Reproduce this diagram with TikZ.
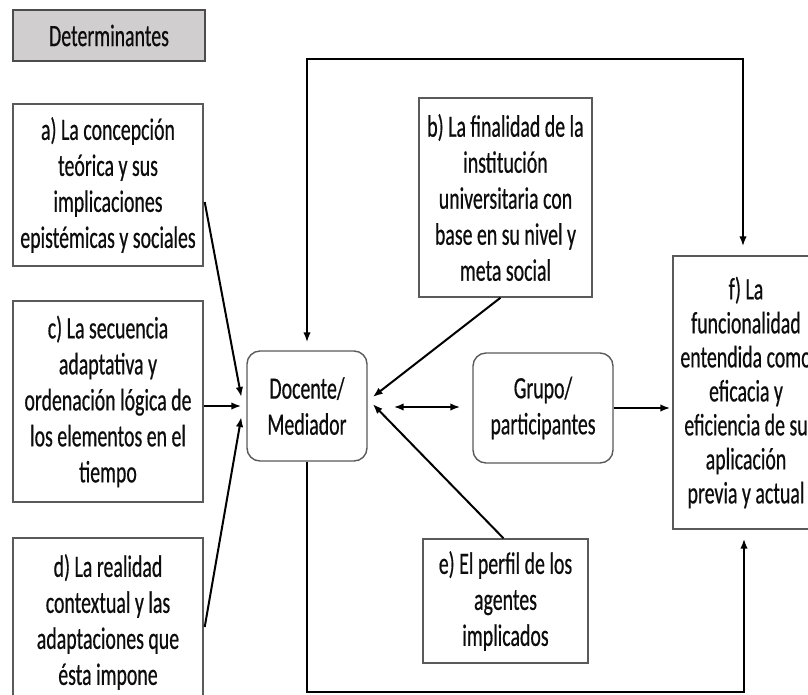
\documentclass[tikz,border=0pt]{standalone}
\usepackage{fontspec}
\setmainfont{Carlito}[FakeStretch=0.64,FakeBold=0.5]
\usetikzlibrary{calc,arrows.meta}
\definecolor{tagfill}{HTML}{D0CECE}
\definecolor{edge}{HTML}{5A5A5A}

\begin{document}
\begin{tikzpicture}[x=1pt,y=-1pt,
  txt/.style={font=\fontsize{31}{36}\selectfont, text=black!95, align=center, inner sep=0pt},
  box/.style={txt, draw=edge, line width=1.4pt, fill=white},
  rbox/.style={box, rounded corners=13pt},
  tag/.style={txt, draw=black!70, line width=1.8pt, fill=tagfill},
  link/.style={line width=2pt, black},
  tip/.style={-{Latex[length=10pt,width=7.5pt]}},
  tips/.style={{Latex[length=10pt,width=7.5pt]}-{Latex[length=10pt,width=7.5pt]}}
]
\useasboundingbox (0,0) rectangle (808,694);
\clip (0,0) rectangle (808,694);

% heading
\node[tag, minimum width=192pt, minimum height=51pt] (det) at (109,35.5) {Determinantes};

% determinants on the left
\node[box, minimum width=190pt, minimum height=162pt] (a) at (108,185)
  {a) La concepción\\teórica y sus\\implicaciones\\epistémicas y sociales};
\node[box, minimum width=190pt, minimum height=201pt] (c) at (108,401.5)
  {c) La secuencia\\adaptativa y\\ordenación lógica de\\los elementos en el\\tiempo};
\node[box, minimum width=190pt, minimum height=168pt] (d) at (108,622)
  {d) La realidad\\contextual y las\\adaptaciones que\\ésta impone};

% determinants in the middle
\node[box, minimum width=173pt, minimum height=199pt] (b) at (505.5,197.5)
  {b) La finalidad de la\\institución\\universitaria con\\base en su nivel y\\meta social};
\node[box, minimum width=165pt, minimum height=124pt] (e) at (505.5,601)
  {e) El perfil de los\\agentes\\implicados};

% actors
\node[rbox, minimum width=120pt, minimum height=110pt] (doc) at (307,406) {Docente/\\Mediador};
\node[rbox, minimum width=140pt, minimum height=110pt] (grp) at (543,408) {Grupo/\\participantes};

% outcome
\node[box, minimum width=146pt, minimum height=273pt,
      font=\fontsize{31}{34}\selectfont] (f) at (746,392.5)
  {f) La\\funcionalidad\\entendida como\\eficacia y\\eficiencia de su\\aplicación\\previa y actual};

% bends of the feedback loops
\coordinate (tl) at (307,59);
\coordinate (tr) at (743,59);
\coordinate (bl) at (307,692);
\coordinate (br) at (744,692);

% upper loop: arrows into the mediator and into f
\draw[link, tips, shorten <=8pt, shorten >=9pt] (doc.north) -- (tl) -- (tr) -- (tr |- f.north);
% lower loop from the mediator up to f
\draw[link, tip, shorten >=9pt] (doc.south) -- (bl) -- (br) -- (br |- f.south);

% influences on the mediator
\draw[link, tip] ($(a.east)+(1,17)$) -- ($(doc.west)+(-5,-9)$);
\draw[link, tip] (c.east |- doc.west) -- ($(doc.west)+(-5,0)$);
\draw[link, tip] ($(d.east)+(1,5)$) -- ($(doc.west)+(-5,11)$);
\draw[link, tip] ($(b.south)+(-5,0)$) -- ($(doc.east)+(5,-9)$);
\draw[link, tip] ($(e.north)+(-2,0)$) -- ($(doc.east)+(5,-2)$);

% mediator <-> group, group -> f
\draw[link, tips] ($(doc.east)+(26,1)$) -- ($(grp.west)+(-12,-1)$);
\draw[link, tip, shorten >=2pt] (grp.east) -- (f.west |- grp.east);
\end{tikzpicture}
\end{document}
